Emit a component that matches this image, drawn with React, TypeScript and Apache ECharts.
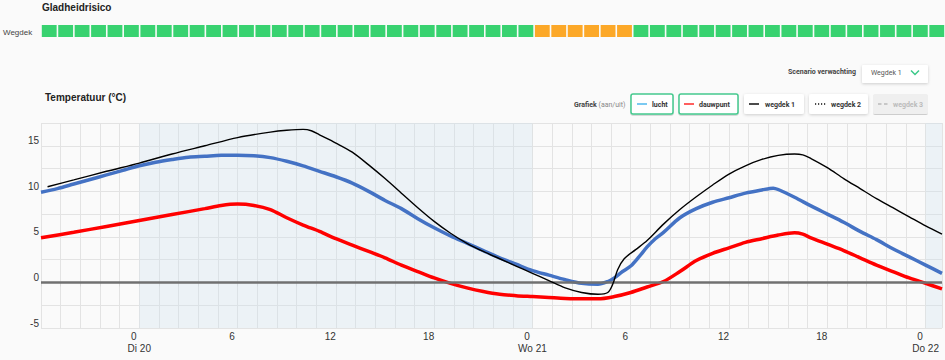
import { useEffect, useRef } from 'react';
import * as echarts from 'echarts';

// hours relative to Di 20 00:00
const START_HOUR = -6;
const END_HOUR = 49;
const dayLabels = ['Di 20', 'Wo 21', 'Do 22'];
const dayShading: [number, number][] = [[0, 24], [48, 49]];

// gladheidrisico per hour (0 = groen, 1 = oranje), starting at START_HOUR
const riskLevels = [
  0, 0, 0, 0, 0, 0, 0, 0, 0, 0,
  0, 0, 0, 0, 0, 0, 0, 0, 0, 0,
  0, 0, 0, 0, 0, 0, 0, 0, 0, 0,
  1, 1, 1, 1, 1, 1,
  0, 0, 0, 0, 0, 0, 0, 0, 0, 0,
  0, 0, 0, 0, 0, 0, 0, 0, 0,
];

const luchtData: [number, number][] = [
  [-6, 9.9], [-5, 10.3], [-4, 10.8], [-3, 11.3], [-2, 11.8], [-1, 12.3], [0, 12.8], [1, 13.2],
  [2, 13.5], [3, 13.75], [4, 13.85], [5, 13.95], [6, 13.95], [7, 13.9], [8, 13.7], [9, 13.3],
  [10, 12.8], [11, 12.2], [12, 11.6], [13, 10.9], [14, 10.0], [15, 9.0], [16, 8.1], [17, 7.0],
  [18, 6.0], [19, 5.1], [20, 4.3], [21, 3.5], [22, 2.7], [23, 2.0], [24, 1.3], [25, 0.8],
  [26, 0.3], [27, -0.1], [28, -0.2], [28.6, 0.1], [29, 0.5], [29.5, 1.2], [30, 1.8], [30.5, 2.8],
  [31, 3.9], [31.5, 4.8], [32, 5.5], [33, 7.1], [34, 8.1], [35, 8.8], [36, 9.3], [37, 9.8],
  [38, 10.15], [38.7, 10.35], [39, 10.2], [40, 9.35], [41, 8.4], [42, 7.5], [43, 6.6], [44, 5.6],
  [45, 4.7], [46, 3.7], [47, 2.8], [48, 1.9], [49, 1.0],
];

const dauwpuntData: [number, number][] = [
  [-6, 4.9], [-4, 5.5], [-2, 6.15], [0, 6.8], [2, 7.45], [4, 8.1], [5, 8.45], [6, 8.6],
  [7, 8.45], [8, 8.0], [9, 7.1], [10, 6.3], [11, 5.6], [12, 4.8], [13, 4.1], [14, 3.4],
  [15, 2.7], [16, 1.9], [17, 1.2], [18, 0.5], [19, -0.1], [20, -0.6], [21, -1.0], [22, -1.3],
  [23, -1.45], [24, -1.55], [25, -1.65], [26, -1.75], [27, -1.8], [28, -1.8], [29, -1.55], [30, -1.1],
  [31, -0.5], [32, 0.1], [33, 1.2], [34, 2.4], [35, 3.2], [36, 3.8], [37, 4.4], [38, 4.8],
  [39, 5.2], [40, 5.45], [40.5, 5.3], [41, 4.9], [42, 4.2], [43, 3.5], [44, 2.7], [45, 1.9],
  [46, 1.2], [47, 0.5], [48, -0.1], [49, -0.7],
];

const wegdek1Data: [number, number][] = [
  [-5.6, 10.5], [-4, 11.25], [-2, 12.2], [0, 13.1], [2, 14.1], [4, 15.0], [6, 15.9], [8, 16.5],
  [9, 16.7], [10, 16.8], [10.5, 16.65], [11, 16.2], [12, 15.3], [13, 14.3], [14, 12.9], [15, 11.4],
  [16, 9.8], [17, 8.2], [18, 6.7], [19, 5.4], [20, 4.3], [21, 3.4], [22, 2.6], [23, 1.8],
  [24, 1.0], [25, 0.2], [26, -0.6], [27, -1.1], [28, -1.3], [28.6, -1.1], [28.9, -0.2], [29.2, 1.4],
  [29.6, 2.6], [30.3, 3.6], [31, 4.6], [32, 6.4], [33, 8.0], [34, 9.4], [35, 10.7], [36, 11.9],
  [37, 12.8], [38, 13.5], [39, 13.95], [40, 14.1], [40.5, 14.0], [41, 13.6], [42, 12.6], [43, 11.4],
  [44, 10.3], [45, 9.2], [46, 8.2], [47, 7.2], [48, 6.2], [49, 5.3],
];

const GREEN = '#38d270';
const ORANGE = '#fca828';
const UI_FONT = 'Roboto, "Liberation Sans", sans-serif';
const AX_FONT = '"Liberation Sans", Arial, sans-serif';

function txt(x: number, y: number, text: string, o: any = {}) {
  return {
    type: 'text',
    x,
    y,
    silent: true,
    style: {
      text,
      fontSize: o.fontSize ?? 7,
      fontWeight: o.fontWeight ?? 'normal',
      fontFamily: o.fontFamily ?? UI_FONT,
      fill: o.fill ?? '#333',
      textAlign: o.align ?? 'left',
      textVerticalAlign: 'middle',
      align: o.align ?? 'left',
      verticalAlign: 'middle',
      rich: o.rich,
    },
  };
}

function button(x: number, w: number, opts: { active?: boolean; disabled?: boolean }) {
  return {
    type: 'rect',
    silent: true,
    shape: { x, y: 94, width: w, height: 20, r: 2 },
    style: {
      fill: opts.disabled ? '#efefef' : '#ffffff',
      stroke: opts.active ? '#45c98e' : 'none',
      lineWidth: opts.active ? 1.5 : 0,
      shadowBlur: opts.active || opts.disabled ? 0 : 3,
      shadowColor: 'rgba(0,0,0,0.18)',
      shadowOffsetY: 1,
    },
  };
}

function icon(x1: number, x2: number, color: string, dash?: number[]) {
  return {
    type: 'line',
    silent: true,
    shape: { x1, y1: 104, x2, y2: 104 },
    style: { stroke: color, lineWidth: 1.5, lineDash: dash },
  };
}

export default function App() {
  const ref = useRef<HTMLDivElement>(null);

  useEffect(() => {
    document.body.style.margin = '0';
    const chart = echarts.init(ref.current!, null, { renderer: 'svg' });

    const option: any = {
      animation: false,
      backgroundColor: '#fafafa',
      grid: [
        { left: 41, right: 0, top: 25, height: 12 },
        { left: 41, right: 0, top: 123, bottom: 32 },
      ],
      xAxis: [
        { gridIndex: 0, type: 'value', min: START_HOUR, max: END_HOUR, show: false },
        {
          gridIndex: 1, type: 'value', position: 'bottom', min: START_HOUR, max: END_HOUR, interval: 1.2,
          axisLine: { show: false },
          axisTick: { show: true, length: 4, lineStyle: { color: '#d8d8d8' } },
          axisLabel: { show: false },
          splitLine: { show: true, lineStyle: { color: '#e3e3e3', width: 1 } },
        },
        {
          gridIndex: 1, type: 'value', position: 'bottom', min: START_HOUR, max: END_HOUR, interval: 6,
          axisLine: { show: false },
          axisTick: { show: false },
          splitLine: { show: false },
          axisLabel: {
            margin: 2,
            color: '#333',
            fontFamily: AX_FONT,
            fontSize: 10,
            formatter: (v: number) => {
              if (v < 0 || v > 48 || v % 6 !== 0) return '';
              const hh = v % 24;
              if (hh === 0) return `{n|0}\n{d|${dayLabels[v / 24]}}`;
              return `{n|${hh}}`;
            },
            rich: {
              n: { fontSize: 10, lineHeight: 12, padding: [0, 11, 0, 0], color: '#333', fontFamily: AX_FONT },
              d: { fontSize: 10, lineHeight: 12, color: '#333', fontFamily: AX_FONT },
            },
          },
        },
      ],
      yAxis: [
        { gridIndex: 0, type: 'value', min: 0, max: 1, show: false },
        {
          gridIndex: 1, type: 'value', min: -5, max: 17.5, interval: 2.5,
          axisLine: { show: false },
          axisTick: { show: false },
          splitLine: { show: true, lineStyle: { color: '#e3e3e3', width: 1 } },
          axisLabel: {
            margin: 2,
            verticalAlign: 'bottom',
            color: '#333',
            fontFamily: AX_FONT,
            fontSize: 10,
            formatter: (v: number) => (v % 5 === 0 ? String(v) : ''),
          },
        },
      ],
      series: [
        {
          type: 'custom',
          name: 'gladheid',
          xAxisIndex: 0,
          yAxisIndex: 0,
          silent: true,
          data: riskLevels.map((lvl, i) => [START_HOUR + i, lvl]),
          renderItem: (_p: any, api: any) => {
            const h = api.value(0);
            const lvl = api.value(1);
            const p0 = api.coord([h, 0]);
            const p1 = api.coord([h + 1, 1]);
            return {
              type: 'rect',
              shape: { x: p0[0] + 0.8, y: p1[1], width: p1[0] - p0[0] - 1.6, height: p0[1] - p1[1] },
              style: { fill: lvl ? ORANGE : GREEN },
            };
          },
        },
        {
          type: 'line',
          name: 'achtergrond',
          xAxisIndex: 1,
          yAxisIndex: 1,
          data: [],
          silent: true,
          z: 1,
          markArea: {
            silent: true,
            itemStyle: { color: 'rgba(205,225,238,0.3)' },
            data: dayShading.map(([a, b]) => [{ xAxis: a }, { xAxis: b }]),
          },
          markLine: {
            silent: true,
            symbol: 'none',
            label: { show: false },
            lineStyle: { color: '#707070', width: 2.5, type: 'solid' },
            data: [{ yAxis: 0 }],
          },
        },
        {
          type: 'line', name: 'lucht', xAxisIndex: 1, yAxisIndex: 1, data: luchtData,
          smooth: 0.3, showSymbol: false, z: 3,
          lineStyle: { color: '#4472c4', width: 3.5 },
        },
        {
          type: 'line', name: 'dauwpunt', xAxisIndex: 1, yAxisIndex: 1, data: dauwpuntData,
          smooth: 0.3, showSymbol: false, z: 4,
          lineStyle: { color: '#ff0000', width: 3.5 },
        },
        {
          type: 'line', name: 'wegdek 1', xAxisIndex: 1, yAxisIndex: 1, data: wegdek1Data,
          smooth: 0.3, showSymbol: false, z: 5,
          lineStyle: { color: '#000000', width: 1.4 },
        },
      ],
      graphic: {
        elements: [
          txt(42, 7.5, 'Gladheidrisico', { fontSize: 10, fontWeight: 'bold', fontFamily: AX_FONT, fill: '#222' }),
          txt(3, 32, 'Wegdek', { fontSize: 8, fontFamily: AX_FONT, fill: '#444' }),
          txt(45, 97, 'Temperatuur (°C)', { fontSize: 10, fontWeight: 'bold', fontFamily: AX_FONT, fill: '#222' }),
          txt(856, 72, 'Scenario verwachting', { fontSize: 7, fontWeight: 'bold', fill: '#444', align: 'right' }),
          {
            type: 'rect', silent: true,
            shape: { x: 862, y: 65, width: 66, height: 18, r: 1 },
            style: { fill: '#fff', shadowBlur: 3, shadowColor: 'rgba(0,0,0,0.18)', shadowOffsetY: 1 },
          },
          txt(871, 73, 'Wegdek 1', { fontSize: 7, fill: '#555' }),
          {
            type: 'polyline', silent: true,
            shape: { points: [[911, 70.5], [915, 74.5], [919, 70.5]] },
            style: { stroke: '#3cc98a', lineWidth: 1.5, fill: 'none' },
          },
          txt(574, 104.5, '{b|Grafiek} {r|(aan/uit)}', {
            fontSize: 7,
            fill: '#444',
            rich: {
              b: { fontWeight: 'bold', fill: '#444', color: '#444', fontSize: 7, fontFamily: UI_FONT },
              r: { fill: '#888', color: '#888', fontSize: 7, fontFamily: UI_FONT },
            },
          }),
          button(631, 42, { active: true }),
          icon(637, 647, '#4fb8ee'),
          txt(652, 104.5, 'lucht', { fontWeight: 'bold', fill: '#333' }),
          button(679, 59, { active: true }),
          icon(684, 694, '#ff2a2a'),
          txt(699, 104.5, 'dauwpunt', { fontWeight: 'bold', fill: '#333' }),
          button(744, 60, {}),
          icon(749, 759, '#111'),
          txt(765, 104.5, 'wegdek 1', { fontWeight: 'bold', fill: '#333' }),
          button(809, 59, {}),
          icon(815, 827, '#111', [1.2, 1.8]),
          txt(831, 104.5, 'wegdek 2', { fontWeight: 'bold', fill: '#333' }),
          button(873, 55, { disabled: true }),
          icon(878, 890, '#bbbbbb', [3.5, 2.5]),
          txt(893, 104.5, 'wegdek 3', { fontWeight: 'bold', fill: '#bbbbbb' }),
        ],
      },
    };

    chart.setOption(option);
    return () => chart.dispose();
  }, []);

  return <div ref={ref} style={{ width: 945, height: 360, background: '#fafafa' }} />;
}
